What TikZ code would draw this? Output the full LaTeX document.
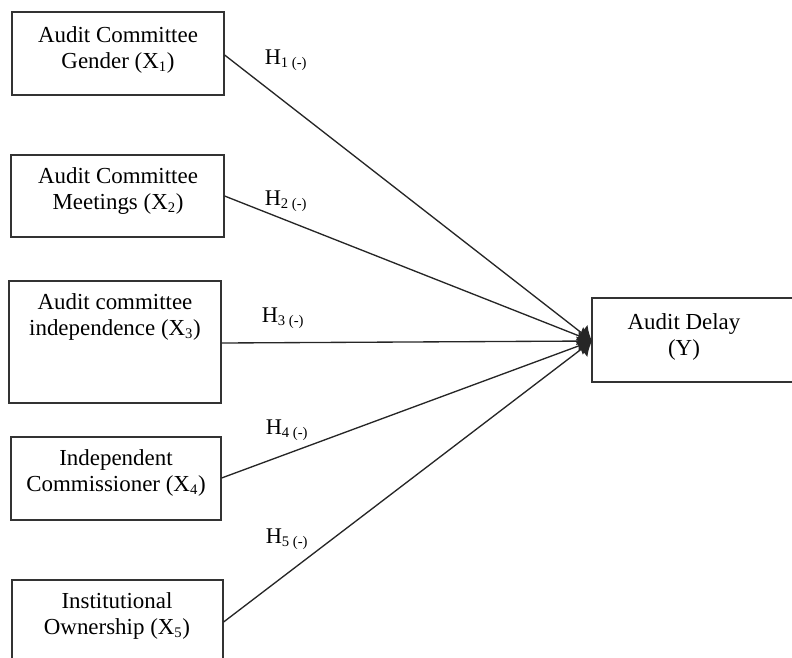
\documentclass[tikz,border=0pt]{standalone}
\usepackage{fontspec}
\setmainfont{Liberation Serif}
\usetikzlibrary{arrows.meta}
\begin{document}
\begin{tikzpicture}[x=0.75pt,y=-0.75pt,
  box/.style={draw=black!80,line width=0.9pt,minimum width=#1*0.75pt,inner sep=0pt},
  lbl/.style={font=\fontsize{17.2}{19.5}\selectfont,align=center,inner sep=0pt,anchor=north},
  hyp/.style={font=\fontsize{16.8}{19.5}\selectfont,inner sep=0pt},
  link/.style={draw=black!85,line width=1pt,-{Latex[length=10pt,width=15pt]}}]
\useasboundingbox (0,0) rectangle (792,657);
\newcommand{\hl}[1]{H\textsubscript{\fontsize{11}{12}\selectfont #1 (-)}}
\newcommand{\xs}[1]{X\textsubscript{\fontsize{11}{12}\selectfont #1}}
% boxes
\node[box=212,minimum height=83*0.75pt] (b1) at (118,53.5) {};
\node[box=213,minimum height=82*0.75pt] (b2) at (117.5,196) {};
\node[box=212,minimum height=122*0.75pt] (b3) at (115,342) {};
\node[box=210,minimum height=83*0.75pt] (b4) at (116,478.5) {};
\node[box=211,minimum height=100*0.75pt] (b5) at (117.5,630) {};
\node[box=230,minimum height=84*0.75pt] (by) at (707,340) {};
% texts
\node[lbl] (t1) at (118,26) {Audit Committee\\Gender (\xs{1})};
\node[lbl] (t2) at (118,167) {Audit Committee\\Meetings (\xs{2})};
\node[lbl] (t3) at (115,293) {Audit committee\\independence (\xs{3})};
\node[lbl] (t4) at (116,449) {Independent\\Commissioner (\xs{4})};
\node[lbl] (t5) at (117,592) {Institutional\\Ownership (\xs{5})};
\node[lbl] (ty) at (684,313) {Audit Delay\\(Y)};
% connectors
\coordinate (tip) at (592,341);
\draw[link] (b1.east |- 0,55) -- (tip);
\draw[link] (b2.east |- 0,196) -- (tip);
\draw[link] (b3.east |- 0,343) -- (tip);
\draw[link] (b4.east |- 0,478) -- (tip);
\draw[link] (b5.east |- 0,622) -- (tip);
% hypothesis labels
\node[hyp] (h1) at (286,60) {\hl{1}};
\node[hyp] (h2) at (286,201) {\hl{2}};
\node[hyp] (h3) at (283,318) {\hl{3}};
\node[hyp] (h4) at (287,430) {\hl{4}};
\node[hyp] (h5) at (287,539) {\hl{5}};
\end{tikzpicture}
\end{document}
